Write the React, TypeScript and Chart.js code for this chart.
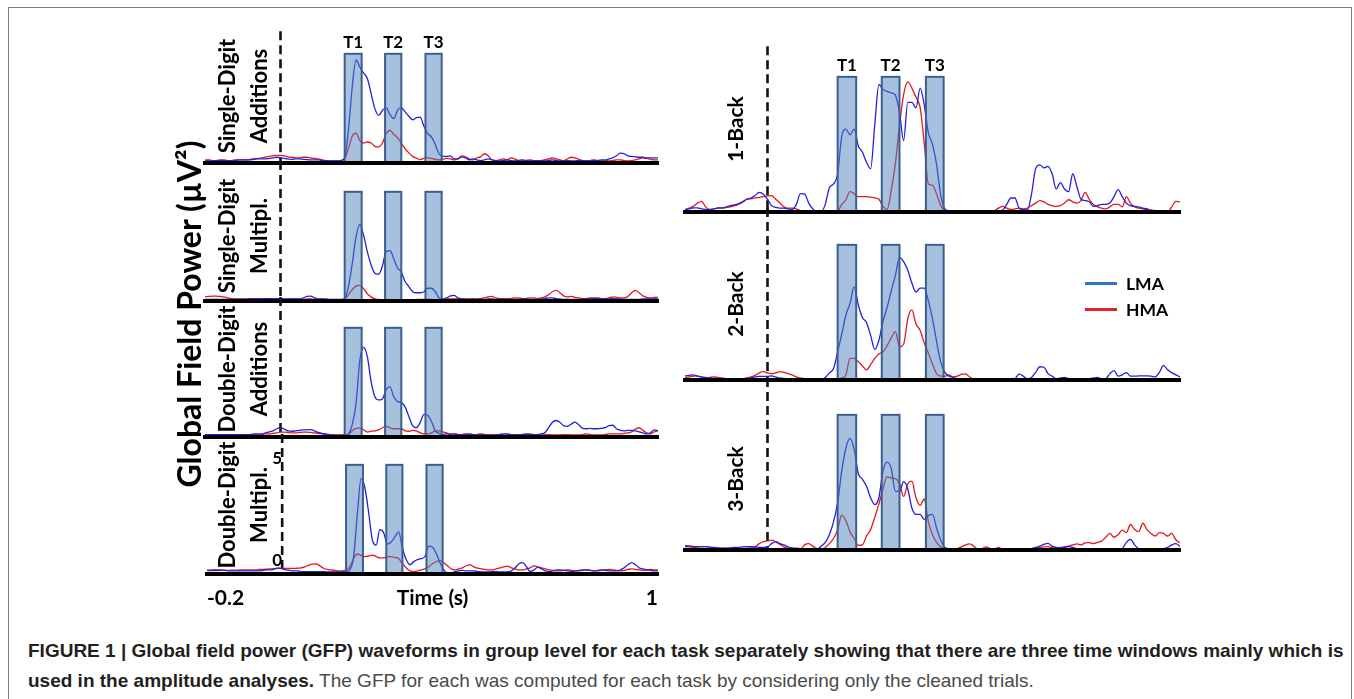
import React, { useEffect, useRef } from "react";
import { Chart, registerables } from "chart.js";
Chart.register(...registerables);

// ---------------- DATA ----------------
// time grid: -0.2 s .. 1.0 s, 10 ms steps (121 samples)
const TIME_START = -0.2;
const TIME_STEP = 0.01;

// analysis windows (s)
const WINDOW_LABELS = ["T1", "T2", "T3"];
const WINDOW_START = [0.17, 0.277, 0.384];
const WINDOW_END = [0.215, 0.32, 0.427];
const WINDOW_TOP = 5.3;

const TIME_TICKS = [-0.2, 1];
const POWER_TICKS = [0, 5];

// Single-Digit Additions
const SDA_LMA = [
  0.1,0.1,0.1,0.12,0.12,0.12,0.1,0.1,0.12,0.15,
  0.15,0.15,0.15,0.18,0.2,0.2,0.2,0.22,0.25,0.28,
  0.26,0.22,0.2,0.18,0.2,0.2,0.18,0.16,0.15,0.15,
  0.15,0.12,0.12,0.1,0.1,0.1,0.12,0.25,1.6,3.7,
  5.0,4.66,4.37,4.1,3.37,2.64,2.31,2.56,2.69,2.35,
  2.15,2.56,2.69,2.48,2.27,2.1,2.2,2.23,1.78,1.42,
  1.26,0.9,0.45,0.32,0.32,0.35,0.2,0.2,0.3,0.25,
  0.15,0.2,0.15,0.12,0.15,0.2,0.15,0.12,0.1,0.12,
  0.15,0.12,0.1,0.12,0.15,0.12,0.1,0.12,0.1,0.12,
  0.1,0.12,0.15,0.12,0.1,0.1,0.12,0.1,0.1,0.12,
  0.12,0.1,0.1,0.12,0.12,0.15,0.15,0.2,0.25,0.35,
  0.48,0.45,0.35,0.32,0.3,0.28,0.28,0.25,0.25,0.25,
  0.25,
];
const SDA_HMA = [
  0.15,0.15,0.12,0.12,0.15,0.15,0.12,0.12,0.15,0.15,
  0.15,0.15,0.18,0.2,0.22,0.25,0.28,0.32,0.35,0.37,
  0.37,0.35,0.3,0.28,0.25,0.25,0.28,0.28,0.25,0.22,
  0.2,0.15,0.12,0.1,0.1,0.1,0.12,0.2,0.7,1.3,
  1.45,1.1,0.97,1.02,0.97,0.81,0.78,0.97,1.42,1.59,
  1.39,1.23,0.97,0.7,0.49,0.32,0.24,0.16,0.23,0.26,
  0.22,0.18,0.15,0.18,0.22,0.2,0.15,0.2,0.35,0.3,
  0.2,0.15,0.25,0.3,0.45,0.35,0.15,0.12,0.15,0.2,
  0.15,0.25,0.2,0.12,0.1,0.12,0.15,0.12,0.1,0.12,
  0.15,0.2,0.25,0.2,0.15,0.12,0.2,0.28,0.25,0.18,
  0.12,0.1,0.12,0.15,0.12,0.1,0.12,0.1,0.12,0.15,
  0.15,0.12,0.1,0.12,0.15,0.2,0.25,0.22,0.18,0.15,
  0.15,
];

// Single-Digit Multiplications
const SDM_LMA = [
  0.08,0.08,0.08,0.08,0.08,0.08,0.08,0.08,0.08,0.08,
  0.08,0.08,0.1,0.1,0.1,0.12,0.12,0.12,0.12,0.12,
  0.12,0.1,0.1,0.1,0.1,0.1,0.15,0.22,0.24,0.15,
  0.1,0.1,0.1,0.08,0.08,0.08,0.08,0.1,0.7,1.8,
  3.1,3.72,3.2,2.4,1.75,1.35,1.3,1.7,2.4,2.45,
  2.05,1.6,1.4,0.95,0.7,0.45,0.4,0.4,0.45,0.62,
  0.62,0.45,0.15,0.1,0.15,0.25,0.27,0.15,0.1,0.08,
  0.08,0.1,0.08,0.08,0.08,0.1,0.1,0.08,0.08,0.08,
  0.08,0.08,0.08,0.08,0.1,0.1,0.08,0.08,0.08,0.1,
  0.12,0.15,0.15,0.12,0.1,0.08,0.08,0.08,0.08,0.08,
  0.08,0.1,0.1,0.12,0.12,0.1,0.1,0.1,0.12,0.1,
  0.1,0.08,0.08,0.08,0.08,0.08,0.1,0.1,0.1,0.1,
  0.1,
];
const SDM_HMA = [
  0.2,0.22,0.24,0.24,0.22,0.2,0.15,0.12,0.1,0.1,
  0.1,0.1,0.12,0.12,0.1,0.1,0.12,0.12,0.12,0.1,
  0.1,0.08,0.08,0.1,0.1,0.08,0.08,0.1,0.1,0.08,
  0.08,0.08,0.06,0.06,0.05,0.05,0.05,0.1,0.3,0.55,
  0.72,0.76,0.6,0.35,0.2,0.1,0.08,0.06,0.06,0.06,
  0.06,0.06,0.06,0.06,0.06,0.06,0.08,0.08,0.08,0.08,
  0.08,0.06,0.06,0.08,0.1,0.1,0.1,0.1,0.1,0.1,
  0.1,0.1,0.1,0.12,0.15,0.2,0.22,0.15,0.12,0.12,
  0.12,0.12,0.15,0.15,0.12,0.12,0.15,0.15,0.12,0.15,
  0.2,0.3,0.45,0.52,0.4,0.25,0.2,0.22,0.18,0.15,
  0.12,0.12,0.15,0.15,0.15,0.12,0.12,0.15,0.2,0.18,
  0.15,0.15,0.22,0.4,0.52,0.4,0.25,0.18,0.15,0.18,
  0.18,
];

// Double-Digit Additions
const DDA_LMA = [
  0.12,0.12,0.12,0.12,0.12,0.12,0.12,0.12,0.12,0.12,
  0.12,0.12,0.12,0.15,0.15,0.15,0.2,0.25,0.3,0.4,
  0.45,0.38,0.3,0.28,0.3,0.32,0.35,0.35,0.36,0.3,
  0.22,0.18,0.15,0.12,0.1,0.08,0.08,0.08,0.15,0.6,
  1.6,3.7,4.35,3.9,2.7,1.95,1.8,1.85,2.3,2.45,
  1.95,1.72,1.68,1.46,1.0,0.55,0.45,0.7,1.1,1.05,
  0.75,0.3,0.18,0.12,0.15,0.12,0.15,0.12,0.1,0.12,
  0.15,0.12,0.1,0.1,0.12,0.1,0.08,0.1,0.12,0.15,
  0.15,0.12,0.1,0.1,0.12,0.15,0.12,0.12,0.12,0.15,
  0.2,0.45,0.7,0.8,0.72,0.55,0.52,0.62,0.72,0.6,
  0.42,0.4,0.42,0.4,0.4,0.42,0.45,0.55,0.57,0.4,
  0.32,0.3,0.32,0.32,0.3,0.25,0.2,0.15,0.2,0.35,
  0.3,
];
const DDA_HMA = [
  0.08,0.08,0.08,0.08,0.08,0.08,0.08,0.1,0.1,0.1,
  0.1,0.1,0.1,0.12,0.12,0.12,0.15,0.15,0.18,0.2,
  0.24,0.24,0.22,0.2,0.2,0.22,0.24,0.24,0.22,0.2,
  0.18,0.15,0.12,0.1,0.1,0.1,0.1,0.1,0.12,0.3,
  0.42,0.44,0.35,0.24,0.28,0.3,0.35,0.45,0.52,0.45,
  0.4,0.4,0.4,0.3,0.28,0.32,0.3,0.2,0.15,0.15,
  0.2,0.3,0.3,0.25,0.2,0.15,0.15,0.12,0.12,0.15,
  0.12,0.1,0.12,0.15,0.12,0.1,0.12,0.12,0.1,0.1,
  0.1,0.12,0.12,0.1,0.1,0.12,0.15,0.12,0.1,0.1,
  0.1,0.12,0.1,0.1,0.1,0.12,0.12,0.1,0.1,0.1,
  0.12,0.15,0.12,0.1,0.1,0.1,0.12,0.15,0.15,0.15,
  0.15,0.18,0.2,0.25,0.38,0.45,0.32,0.2,0.15,0.25,
  0.3,
];

// Double-Digit Multiplications
const DDM_LMA = [
  0.19,0.19,0.2,0.2,0.19,0.18,0.15,0.15,0.15,0.15,
  0.15,0.15,0.15,0.15,0.15,0.18,0.2,0.2,0.25,0.3,
  0.25,0.2,0.18,0.15,0.15,0.12,0.12,0.12,0.12,0.12,
  0.12,0.12,0.1,0.1,0.1,0.1,0.1,0.1,0.2,0.8,
  2.9,4.64,4.2,3.0,1.65,1.4,2.15,2.0,1.45,1.55,
  1.8,2.05,1.25,0.7,0.45,0.6,0.7,0.75,0.85,1.35,
  1.3,1.0,0.55,0.2,0.05,0.05,0.12,0.15,0.18,0.15,
  0.15,0.15,0.12,0.1,0.1,0.1,0.12,0.12,0.1,0.1,
  0.1,0.15,0.3,0.5,0.55,0.35,0.12,0.2,0.32,0.25,
  0.15,0.12,0.15,0.2,0.2,0.18,0.15,0.12,0.15,0.18,
  0.2,0.2,0.18,0.15,0.18,0.2,0.18,0.15,0.15,0.15,
  0.2,0.3,0.45,0.55,0.45,0.3,0.25,0.2,0.18,0.15,
  0.15,
];
const DDM_HMA = [
  0.16,0.16,0.17,0.17,0.18,0.18,0.18,0.19,0.19,0.2,
  0.2,0.2,0.2,0.2,0.22,0.22,0.24,0.25,0.26,0.27,
  0.27,0.27,0.27,0.27,0.28,0.3,0.35,0.42,0.48,0.49,
  0.4,0.28,0.22,0.2,0.18,0.15,0.15,0.2,0.35,0.75,
  0.97,0.9,0.84,0.88,0.92,0.85,0.78,0.78,0.84,0.84,
  0.8,0.75,0.5,0.3,0.15,0.12,0.15,0.2,0.25,0.35,
  0.5,0.6,0.65,0.55,0.4,0.25,0.2,0.25,0.3,0.4,
  0.44,0.35,0.28,0.25,0.22,0.2,0.2,0.25,0.3,0.35,
  0.38,0.3,0.25,0.2,0.2,0.25,0.3,0.39,0.35,0.3,
  0.25,0.2,0.18,0.15,0.15,0.18,0.2,0.18,0.15,0.15,
  0.18,0.2,0.18,0.15,0.15,0.18,0.2,0.22,0.2,0.18,
  0.15,0.18,0.22,0.25,0.22,0.2,0.18,0.2,0.22,0.2,
  0.2,
];

// 1-Back
const B1_LMA = [
  0.09,0.12,0.16,0.16,0.12,0.1,0.09,0.12,0.16,0.16,
  0.2,0.25,0.28,0.33,0.4,0.5,0.55,0.65,0.77,0.7,
  0.5,0.25,0.18,0.15,0.15,0.12,0.1,0.3,0.72,0.7,
  0.35,0.12,0.0,0.0,0.3,0.95,1.1,1.5,2.97,3.25,
  3.03,3.25,2.6,2.35,1.95,1.7,3.4,5.0,4.8,4.73,
  4.67,4.58,3.9,2.8,4.3,4.3,4.08,4.86,4.2,3.1,
  2.65,1.85,0.65,0.12,0.05,0.0,0.0,0.0,0.0,0.0,
  0.0,0.0,0.0,0.0,0.02,0.02,0.05,0.08,0.3,0.55,
  0.55,0.15,0.1,0.08,0.7,1.7,1.85,1.73,1.79,1.5,
  0.9,1.15,0.9,0.8,1.5,1.0,0.5,0.45,0.4,0.22,
  0.25,0.3,0.3,0.35,0.6,0.88,0.6,0.35,0.25,0.22,
  0.2,0.15,0.12,0.05,0.02,0.0,0.0,0.0,0.0,0.02,
  0.05,
];
const B1_HMA = [
  0.09,0.15,0.22,0.35,0.42,0.2,0.1,0.12,0.15,0.15,
  0.18,0.2,0.25,0.3,0.4,0.5,0.52,0.55,0.57,0.6,
  0.63,0.64,0.5,0.35,0.2,0.15,0.15,0.12,0.05,0.0,
  0.0,0.0,0.0,0.0,0.0,0.0,0.0,0.02,0.3,0.48,
  0.8,0.72,0.6,0.6,0.6,0.58,0.55,0.5,0.22,0.1,
  0.85,1.9,3.4,4.6,5.1,4.86,4.5,4.1,2.7,1.1,
  1.05,0.7,0.25,0.05,0.0,0.0,0.02,0.03,0.02,0.0,
  0.0,0.0,0.0,0.0,0.0,0.05,0.15,0.22,0.15,0.1,
  0.12,0.15,0.12,0.15,0.25,0.35,0.45,0.4,0.3,0.25,
  0.22,0.25,0.35,0.48,0.4,0.35,0.45,0.77,0.5,0.3,
  0.2,0.15,0.12,0.2,0.3,0.3,0.2,0.6,0.35,0.2,
  0.15,0.12,0.1,0.08,0.05,0.02,0.0,0.0,0.2,0.42,
  0.4,
];

// 2-Back
const B2_LMA = [
  0.16,0.18,0.2,0.16,0.12,0.1,0.08,0.06,0.05,0.04,
  0.03,0.03,0.03,0.03,0.05,0.06,0.08,0.12,0.14,0.14,
  0.14,0.16,0.12,0.08,0.06,0.05,0.04,0.03,0.03,0.03,
  0.03,0.03,0.03,0.03,0.1,0.28,0.45,1.1,1.8,2.55,
  3.0,3.65,2.95,2.45,2.25,1.75,1.2,1.55,2.3,2.85,
  3.5,4.1,4.81,4.64,4.3,3.8,3.45,3.6,3.6,3.1,
  2.4,1.5,0.7,0.3,0.15,0.1,0.05,0.03,0.02,0.02,
  0.0,0.0,0.0,0.0,0.02,0.0,0.0,0.02,0.05,0.02,
  0.05,0.24,0.15,0.05,0.1,0.3,0.52,0.5,0.25,0.15,
  0.05,0.08,0.1,0.05,0.03,0.0,0.0,0.02,0.05,0.08,
  0.1,0.05,0.05,0.25,0.37,0.15,0.2,0.29,0.15,0.15,
  0.16,0.16,0.16,0.15,0.12,0.3,0.57,0.4,0.29,0.2,
  0.12,
];
const B2_HMA = [
  0.1,0.12,0.15,0.15,0.12,0.08,0.1,0.12,0.1,0.08,
  0.05,0.03,0.03,0.03,0.05,0.08,0.12,0.18,0.28,0.33,
  0.28,0.25,0.28,0.33,0.3,0.25,0.2,0.12,0.08,0.05,
  0.03,0.02,0.0,0.0,0.0,0.0,0.02,0.03,0.08,0.2,
  0.85,0.85,0.72,0.55,0.4,0.6,0.85,1.02,1.1,1.35,
  1.65,1.9,1.3,1.4,2.4,2.75,2.2,1.95,1.45,1.05,
  0.62,0.25,0.15,0.15,0.2,0.12,0.15,0.22,0.24,0.12,
  0.02,0.0,0.0,0.0,0.0,0.0,0.0,0.0,0.0,0.0,
  0.0,0.0,0.0,0.0,0.0,0.0,0.0,0.0,0.0,0.0,
  0.0,0.0,0.0,0.0,0.0,0.0,0.0,0.0,0.0,0.0,
  0.02,0.04,0.04,0.02,0.0,0.0,0.0,0.0,0.0,0.0,
  0.0,0.0,0.0,0.0,0.0,0.0,0.0,0.0,0.0,0.0,
  0.0,
];

// 3-Back
const B3_LMA = [
  0.17,0.16,0.14,0.13,0.13,0.13,0.12,0.1,0.08,0.07,
  0.07,0.08,0.1,0.1,0.12,0.13,0.13,0.12,0.1,0.1,
  0.12,0.25,0.33,0.25,0.2,0.12,0.08,0.05,0.03,0.02,
  0.0,0.0,0.02,0.15,0.3,0.6,1.1,1.85,3.1,4.0,
  4.38,3.95,3.0,2.78,2.5,2.05,1.78,2.05,3.1,3.45,
  3.2,2.3,2.3,2.68,2.4,1.65,1.4,1.4,1.2,1.35,
  1.4,0.85,0.38,0.1,0.05,0.02,0.02,0.02,0.0,0.0,
  0.0,0.0,0.0,0.0,0.0,0.0,0.0,0.0,0.0,0.0,
  0.0,0.0,0.0,0.02,0.05,0.1,0.15,0.22,0.26,0.15,
  0.1,0.08,0.1,0.13,0.1,0.05,0.03,0.02,0.0,0.0,
  0.0,0.0,0.0,0.0,0.0,0.02,0.05,0.3,0.42,0.2,
  0.05,0.02,0.02,0.02,0.02,0.03,0.05,0.1,0.2,0.25,
  0.15,
];
const B3_HMA = [
  0.13,0.12,0.1,0.08,0.06,0.06,0.08,0.08,0.06,0.06,
  0.06,0.06,0.06,0.06,0.06,0.06,0.08,0.12,0.25,0.33,
  0.36,0.39,0.32,0.22,0.12,0.06,0.05,0.08,0.04,0.2,
  0.25,0.15,0.05,0.02,0.1,0.25,0.45,0.8,1.37,1.15,
  0.72,0.45,0.18,0.2,0.55,0.8,1.28,1.8,2.4,2.88,
  2.82,2.8,2.6,2.1,2.6,2.7,2.05,1.75,2.0,1.1,
  0.6,0.3,0.12,0.03,0.02,0.02,0.05,0.12,0.2,0.24,
  0.15,0.03,0.05,0.12,0.05,0.02,0.1,0.02,0.0,0.0,
  0.0,0.0,0.0,0.02,0.05,0.08,0.1,0.12,0.13,0.1,
  0.08,0.1,0.13,0.15,0.2,0.24,0.2,0.28,0.29,0.25,
  0.3,0.35,0.5,0.65,0.5,0.6,0.78,0.68,1.0,0.8,
  0.72,1.05,0.8,0.65,0.55,0.68,0.65,0.55,0.65,0.4,
  0.28,
];

const TIME = SDA_LMA.map((_, i) => +(TIME_START + i * TIME_STEP).toFixed(2));

// ---------------- STYLE / LAYOUT ----------------
const LMA_COLOR = "#2121dc";
const HMA_COLOR = "#e5161c";
const FONT = "Lato, 'Open Sans', sans-serif";

type Panel = { title: string[]; lma: number[]; hma: number[] };
const LEFT_PANELS: Panel[] = [
  { title: ["Single-Digit", "Additions"], lma: SDA_LMA, hma: SDA_HMA },
  { title: ["Single-Digit", "Multipl."], lma: SDM_LMA, hma: SDM_HMA },
  { title: ["Double-Digit", "Additions"], lma: DDA_LMA, hma: DDA_HMA },
  { title: ["Double-Digit", "Multipl."], lma: DDM_LMA, hma: DDM_HMA },
];
const RIGHT_PANELS: Panel[] = [
  { title: ["1-Back"], lma: B1_LMA, hma: B1_HMA },
  { title: ["2-Back"], lma: B2_LMA, hma: B2_HMA },
  { title: ["3-Back"], lma: B3_LMA, hma: B3_HMA },
];

const LEFT_LAYOUT = { x0: 205, x1: 658, baselines: [163, 301, 437, 574], pxPerUnit: 20.6, yMax: 6.4, dashTop: [6.4, 6.8, 6.8, 6.8], labelX: 243, labelY: [96, 236, 369, 505] };
const RIGHT_LAYOUT = { x0: 685, x1: 1180, baselines: [212, 380, 550], pxPerUnit: 25.5, yMax: 6.5, dashTop: [6.5, 6.75, 6.75], labelX: 735, labelY: [128.5, 303.5, 478.5] };

type ChartProps = {
  lma: number[]; hma: number[]; x0: number; x1: number; baseline: number;
  pxPerUnit: number; yMax: number; dashTop: number; windowLabels: boolean; bottomAxes: boolean;
};

function GfpChart(p: ChartProps) {
  const ref = useRef<HTMLCanvasElement>(null);
  const areaH = p.yMax * p.pxPerUnit;
  const canvasLeft = p.x0 - 10;
  const width = Math.round(p.x1 - p.x0 + 22);
  const canvasTop = Math.floor(p.baseline - areaH - 14);
  const padTop = p.baseline - areaH - canvasTop;
  const axisH = p.bottomAxes ? 40 : 0;
  const height = Math.ceil(p.baseline - canvasTop + axisH + 6);
  const padBottom = height - (p.baseline - canvasTop) - axisH;

  useEffect(() => {
    const canvas = ref.current;
    if (!canvas) return;
    const decor = {
      id: "gfpDecor",
      beforeDatasetsDraw(chart: any) {
        const { ctx } = chart;
        const xs = chart.scales.x, ys = chart.scales.y;
        const px = xs.getPixelForValue(0);
        ctx.save();
        ctx.strokeStyle = "#111";
        ctx.lineWidth = 2.6;
        ctx.setLineDash([9, 5]);
        ctx.beginPath();
        ctx.moveTo(px, ys.getPixelForValue(p.dashTop));
        ctx.lineTo(px, ys.getPixelForValue(0));
        ctx.stroke();
        ctx.restore();
      },
      afterDatasetsDraw(chart: any) {
        const { ctx } = chart;
        const xs = chart.scales.x, ys = chart.scales.y;
        ctx.save();
        WINDOW_LABELS.forEach((lab, i) => {
          const a = xs.getPixelForValue(WINDOW_START[i]);
          const b = xs.getPixelForValue(WINDOW_END[i]);
          const t = ys.getPixelForValue(WINDOW_TOP);
          const bot = ys.getPixelForValue(0);
          ctx.fillStyle = "rgba(79,129,189,0.5)";
          ctx.fillRect(a, t, b - a, bot - t);
          ctx.strokeStyle = "#3b6090";
          ctx.lineWidth = 2;
          ctx.strokeRect(a, t, b - a, bot - t);
          if (p.windowLabels) {
            ctx.fillStyle = "#000";
            ctx.font = `bold 17px ${FONT}`;
            ctx.textAlign = "center";
            ctx.textBaseline = "middle";
            ctx.fillText(lab, (a + b) / 2, t - 11);
          }
        });
        ctx.restore();
      },
    };
    const mk = (vals: number[]) => vals.map((v, i) => ({ x: TIME[i], y: v }));
    const chart = new Chart(canvas, {
      type: "line",
      data: {
        datasets: [
          { label: "LMA", data: mk(p.lma), borderColor: LMA_COLOR, borderWidth: 1.3, pointRadius: 0, cubicInterpolationMode: "monotone", fill: false },
          { label: "HMA", data: mk(p.hma), borderColor: HMA_COLOR, borderWidth: 1.3, pointRadius: 0, cubicInterpolationMode: "monotone", fill: false },
        ],
      },
      options: {
        animation: false,
        responsive: false,
        devicePixelRatio: 1,
        events: [],
        layout: { padding: { left: 10, right: width - 10 - (p.x1 - p.x0), top: padTop, bottom: padBottom } },
        plugins: { legend: { display: false }, tooltip: { enabled: false } },
        scales: {
          x: {
            type: "linear", min: -0.2, max: 1,
            grid: { display: false, drawTicks: false },
            border: { display: true, width: 4, color: "#000", z: 1 },
            ticks: {
              display: p.bottomAxes, align: "inner", padding: 12, color: "#000",
              font: { family: FONT, weight: "bold", size: 21 },
              callback: (v: any) => String(v),
            },
            afterBuildTicks: (s: any) => { s.ticks = TIME_TICKS.map((v) => ({ value: v })); },
            title: {
              display: p.bottomAxes, text: "Time (s)", color: "#000",
              font: { family: FONT, weight: "bold", size: 21 },
              padding: { top: 0, bottom: 3 },
            },
            afterFit: (s: any) => { s.height = axisH; },
          },
          y: {
            type: "linear", min: 0, max: p.yMax,
            display: p.bottomAxes,
            position: p.bottomAxes ? { x: 0 } : "left",
            grid: { display: false, drawTicks: false },
            border: { display: false },
            ticks: { padding: 4, labelOffset: -13, color: "#000", font: { family: FONT, weight: "bold", size: 17 } },
            afterBuildTicks: (s: any) => { s.ticks = POWER_TICKS.map((v) => ({ value: v })); },
          },
        },
      } as any,
      plugins: [decor],
    });
    return () => chart.destroy();
  }, []);

  return (
    <canvas
      ref={ref}
      width={width}
      height={height}
      style={{ position: "absolute", left: canvasLeft, top: canvasTop, width, height }}
    />
  );
}

function VLabel(props: { cx: number; cy: number; lines: string[]; size: number; lh: number }) {
  return (
    <div
      style={{
        position: "absolute", left: props.cx, top: props.cy,
        transform: "translate(-50%,-50%) rotate(-90deg)",
        whiteSpace: "nowrap", textAlign: "center",
        fontFamily: FONT, fontWeight: 700, fontSize: props.size, lineHeight: `${props.lh}px`, color: "#000",
      }}
    >
      {props.lines.map((l, i) => <div key={i}>{l}</div>)}
    </div>
  );
}

export default function App() {
  return (
    <div style={{ position: "absolute", left: 0, top: 0, width: 1354, height: 699, overflow: "hidden", background: "#fff" }}>
      <div style={{ position: "absolute", left: 8, top: 7, width: 1344, height: 720, border: "1.5px solid #7a7a7a", boxSizing: "border-box" }} />

      {LEFT_PANELS.map((pn, i) => (
        <GfpChart key={"L" + i} lma={pn.lma} hma={pn.hma} x0={LEFT_LAYOUT.x0} x1={LEFT_LAYOUT.x1}
          baseline={LEFT_LAYOUT.baselines[i]} pxPerUnit={LEFT_LAYOUT.pxPerUnit} yMax={LEFT_LAYOUT.yMax}
          dashTop={LEFT_LAYOUT.dashTop[i]} windowLabels={i === 0} bottomAxes={i === LEFT_PANELS.length - 1} />
      ))}
      {RIGHT_PANELS.map((pn, i) => (
        <GfpChart key={"R" + i} lma={pn.lma} hma={pn.hma} x0={RIGHT_LAYOUT.x0} x1={RIGHT_LAYOUT.x1}
          baseline={RIGHT_LAYOUT.baselines[i]} pxPerUnit={RIGHT_LAYOUT.pxPerUnit} yMax={RIGHT_LAYOUT.yMax}
          dashTop={RIGHT_LAYOUT.dashTop[i]} windowLabels={i === 0} bottomAxes={false} />
      ))}

      {LEFT_PANELS.map((pn, i) => (
        <VLabel key={"LL" + i} cx={LEFT_LAYOUT.labelX} cy={LEFT_LAYOUT.labelY[i]} lines={pn.title} size={22} lh={32} />
      ))}
      {RIGHT_PANELS.map((pn, i) => (
        <VLabel key={"RL" + i} cx={RIGHT_LAYOUT.labelX} cy={RIGHT_LAYOUT.labelY[i]} lines={pn.title} size={21} lh={26} />
      ))}

      <VLabel cx={189} cy={314} lines={["Global Field Power (\u00b5V\u00b2)"]} size={32} lh={38} />

      {/* legend */}
      <div style={{ position: "absolute", left: 1085, top: 281.5, width: 32, height: 3, background: "#2e74c6" }} />
      <div style={{ position: "absolute", left: 1126, top: 283, transform: "translateY(-50%)", fontFamily: FONT, fontWeight: 700, fontSize: 17.5, color: "#000" }}>LMA</div>
      <div style={{ position: "absolute", left: 1085, top: 307.5, width: 32, height: 3, background: "#e5202a" }} />
      <div style={{ position: "absolute", left: 1126, top: 309, transform: "translateY(-50%)", fontFamily: FONT, fontWeight: 700, fontSize: 17.5, color: "#000" }}>HMA</div>

      {/* caption */}
      <div style={{ position: "absolute", left: 28, top: 636, fontFamily: "'Liberation Sans', Arial, sans-serif", fontSize: 19, lineHeight: "30px", color: "#231f20", whiteSpace: "nowrap" }}>
        <b>FIGURE 1 | Global field power (GFP) waveforms in group level for each task separately showing that there are three time windows mainly which is</b>
        <br />
        <b>used in the amplitude analyses.</b>
        <span style={{ color: "#4a4a4a" }}> The GFP for each was computed for each task by considering only the cleaned trials.</span>
      </div>
    </div>
  );
}
